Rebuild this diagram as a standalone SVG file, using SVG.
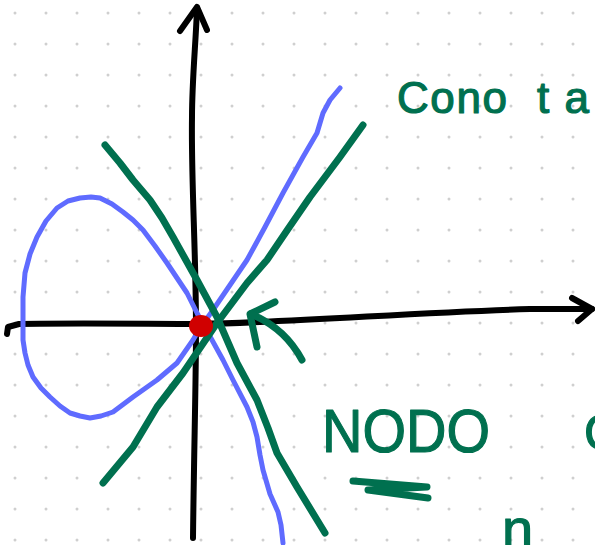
<svg xmlns="http://www.w3.org/2000/svg" width="595" height="545" viewBox="0 0 595 545">
<defs>
<pattern id="dots" patternUnits="userSpaceOnUse" x="0" y="0" width="31" height="31">
<circle cx="15" cy="13" r="1.5" fill="#cfcfcf"/>
</pattern>
<style>
.ax{fill:none;stroke:#000;stroke-width:6;stroke-linecap:round;stroke-linejoin:round}
.bl{fill:none;stroke:#5f6bff;stroke-width:5;stroke-linecap:round;stroke-linejoin:round}
.gr{fill:none;stroke:#00704f;stroke-width:7;stroke-linecap:round;stroke-linejoin:round}
.tx{fill:#00704f;stroke:#00704f;stroke-width:1.2;stroke-linejoin:round;font-family:"Liberation Sans","DejaVu Sans",sans-serif}
</style>
</defs>
<rect width="595" height="545" fill="#fff"/>
<rect width="595" height="545" fill="url(#dots)"/>
<g id="connectors">
<g id="y-axis">
<path class="ax" d="M193,538 C194,450 196,380 196,330 C196,250 191,180 192,117 C192,80 196,40 197,8"/>
<path class="ax" d="M180,31 L197,7 L207,30"/>
</g>
<g id="x-axis">
<path class="ax" d="M7,334 L8,327 L19,324 C80,323 150,324 200,324 C300,322 420,312 530,309 L592,309"/>
<path class="ax" d="M572,298 L592,309 L578,321"/>
</g>
<g id="curve">
<polyline class="bl" points="340,88 330,100 323,113 317,133 303,157 283,193 265,227 247,260 230,285 213,310 200,328 193,340 177,363 157,380 133,397 113,412 101,416 90,418 80,416 70,413 60,406 50,397 41,388 33,377 28,365 25,353 23,340 23,327 23,312 23,297 24,285 25,273 30,254 37,237 46,221 57,208 68,201 80,198 91,197 100,198 112,204 123,212 133,220 143,230 155,246 167,263 187,293 197,313 204,326 212,340 223,360 233,380 247,407 253,422 257,437 260,455 263,470 270,494 278,512 281,525 283,543"/>
</g>
<g id="tangent-a">
<polyline class="gr" points="105,145 120,163 133,180 150,200 162,218 173,237 197,280 217,317 237,363 257,400 268,428 277,453 297,487 325,533"/>
</g>
<g id="tangent-b">
<polyline class="gr" points="103,483 118,465 133,447 157,407 183,373 217,323 247,283 267,260 288,229 310,197 340,157 363,125"/>
</g>
<g id="pointer">
<path class="gr" d="M257,347 L250,314 L275,302"/>
<path class="gr" d="M251,314 Q285,328 302,360"/>
</g>
</g>
<g id="node">
<ellipse cx="201" cy="326" rx="12" ry="11" fill="#d00000"/>
</g>
<g id="label-cono">
<text class="tx" y="113" font-size="44"><tspan x="397" textLength="110" lengthAdjust="spacing">Cono</tspan><tspan x="537" textLength="52" lengthAdjust="spacing">ta</tspan></text>
</g>
<g id="label-nodo">
<text class="tx" x="322" y="452" font-size="62" textLength="168" lengthAdjust="spacingAndGlyphs">NODO</text>
<path class="gr" d="M353,481 L427,487 L368,490 L428,498"/>
</g>
<g id="label-c">
<text class="tx" x="584" y="450" font-size="50">C</text>
</g>
<g id="label-n">
<text class="tx" x="502" y="548" font-size="56">n</text>
</g>
</svg>
